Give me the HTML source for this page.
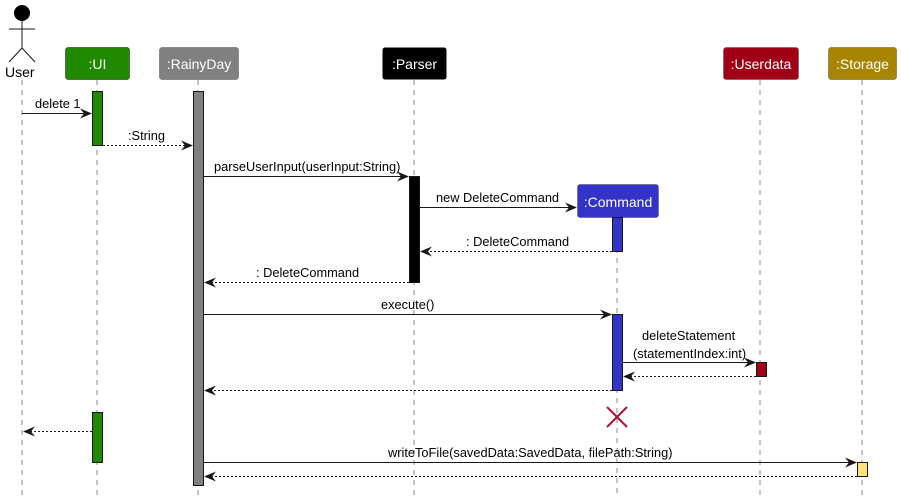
<!DOCTYPE html>
<html><head><meta charset="utf-8"><style>
html,body{margin:0;padding:0;background:#fff;width:901px;height:500px;overflow:hidden}
text{font-family:"Liberation Sans",sans-serif;font-size:12.8px;fill:#000}
.ll{stroke:#888;stroke-width:1;stroke-dasharray:5,5}
.m{stroke:#181818;stroke-width:1}
.d{stroke:#181818;stroke-width:1;stroke-dasharray:2,2}
.ah{fill:#181818}
.hd{fill:#fff;font-size:14px;text-anchor:middle}
</style></head><body>
<svg width="901" height="500" xmlns="http://www.w3.org/2000/svg">
<line class="ll" x1="22" y1="80" x2="22" y2="496"/>
<line class="ll" x1="97" y1="80" x2="97" y2="496"/>
<line class="ll" x1="198" y1="80" x2="198" y2="496"/>
<line class="ll" x1="414" y1="80" x2="414" y2="496"/>
<line class="ll" x1="617" y1="218" x2="617" y2="496"/>
<line class="ll" x1="760" y1="80" x2="760" y2="496"/>
<line class="ll" x1="862" y1="80" x2="862" y2="496"/>
<circle cx="22" cy="13" r="8" fill="#000"/>
<line x1="22" y1="21" x2="22" y2="48" stroke="#181818"/>
<line x1="9" y1="29" x2="35" y2="29" stroke="#181818"/>
<line x1="22" y1="48" x2="9" y2="62" stroke="#181818"/>
<line x1="22" y1="48" x2="35" y2="62" stroke="#181818"/>
<text x="5" y="77" style="font-size:14px">User</text>
<rect x="65.5" y="47.5" width="64" height="32" rx="2.5" fill="#1f8a00" stroke="#181818" stroke-width="0.5"/>
<text class="hd" x="97.5" y="69">:UI</text>
<rect x="159.5" y="47.5" width="79" height="32" rx="2.5" fill="#808080" stroke="#555" stroke-width="0.5"/>
<text class="hd" x="199" y="69">:RainyDay</text>
<rect x="382.5" y="47.5" width="64" height="32" rx="2.5" fill="#000"/>
<text class="hd" x="414.5" y="69">:Parser</text>
<rect x="723.5" y="47.5" width="75" height="32" rx="2.5" fill="#a00015" stroke="#555" stroke-width="0.5"/>
<text class="hd" x="761" y="69">:Userdata</text>
<rect x="828.5" y="47.5" width="68" height="32" rx="2.5" fill="#a88500" stroke="#555" stroke-width="0.5"/>
<text class="hd" x="862.5" y="69">:Storage</text>
<rect x="577.5" y="184.5" width="81" height="33" rx="2.5" fill="#3333c8" stroke="#555" stroke-width="0.5"/>
<text class="hd" x="618" y="207">:Command</text>
<rect x="92.5" y="91.5" width="10" height="54" fill="#1f8a00" stroke="#181818"/>
<rect x="92.5" y="412.5" width="10" height="50" fill="#1f8a00" stroke="#181818"/>
<rect x="193.5" y="91.5" width="10" height="394" fill="#808080" stroke="#181818"/>
<rect x="409.5" y="176.5" width="10" height="106" fill="#000" stroke="#181818"/>
<rect x="612.5" y="217.5" width="10" height="34" fill="#3333c8" stroke="#181818"/>
<rect x="612.5" y="314.5" width="10" height="76" fill="#3333c8" stroke="#181818"/>
<rect x="756.5" y="362.5" width="10" height="14" fill="#a00015" stroke="#181818"/>
<rect x="857.5" y="462.5" width="10" height="14" fill="#ffe27a" stroke="#181818"/>

<line class="m" x1="22" y1="113.5" x2="91" y2="113.5"/>
<polygon class="ah" points="92,113.5 80,108.5 84,113.5 80,118.5"/>
<text x="35" y="108">delete 1</text>

<line class="d" x1="103" y1="145.5" x2="192" y2="145.5"/>
<polygon class="ah" points="193,145.5 181,140.5 185,145.5 181,150.5"/>
<text x="128" y="140">:String</text>

<line class="m" x1="204" y1="176.5" x2="408" y2="176.5"/>
<polygon class="ah" points="409,176.5 397,171.5 401,176.5 397,181.5"/>
<text x="214" y="171">parseUserInput(userInput:String)</text>

<line class="m" x1="420" y1="207.5" x2="576" y2="207.5"/>
<polygon class="ah" points="577,207.5 565,202.5 569,207.5 565,212.5"/>
<text x="436" y="202">new DeleteCommand</text>

<line class="d" x1="612" y1="251.5" x2="421" y2="251.5"/>
<polygon class="ah" points="420,251.5 432,246.5 428,251.5 432,256.5"/>
<text x="466" y="246">: DeleteCommand</text>

<line class="d" x1="409" y1="282.5" x2="205" y2="282.5"/>
<polygon class="ah" points="204,282.5 216,277.5 212,282.5 216,287.5"/>
<text x="256" y="277">: DeleteCommand</text>

<line class="m" x1="204" y1="314.5" x2="611" y2="314.5"/>
<polygon class="ah" points="612,314.5 600,309.5 604,314.5 600,319.5"/>
<text x="381" y="309">execute()</text>

<line class="m" x1="623" y1="362.5" x2="755" y2="362.5"/>
<polygon class="ah" points="756,362.5 744,357.5 748,362.5 744,367.5"/>
<text x="642" y="340">deleteStatement</text>
<text x="633" y="358">(statementIndex:int)</text>

<line class="d" x1="756" y1="376.5" x2="624" y2="376.5"/>
<polygon class="ah" points="623,376.5 635,371.5 631,376.5 635,381.5"/>

<line class="d" x1="612" y1="390.5" x2="205" y2="390.5"/>
<polygon class="ah" points="204,390.5 216,385.5 212,390.5 216,395.5"/>

<line x1="607" y1="407" x2="627" y2="427" stroke="#b0103e" stroke-width="2"/>
<line x1="627" y1="407" x2="607" y2="427" stroke="#b0103e" stroke-width="2"/>

<line class="d" x1="92" y1="431.5" x2="24" y2="431.5"/>
<polygon class="ah" points="23,431.5 35,426.5 31,431.5 35,436.5"/>

<line class="m" x1="204" y1="462.5" x2="856" y2="462.5"/>
<polygon class="ah" points="857,462.5 845,457.5 849,462.5 845,467.5"/>
<text x="388" y="457">writeToFile(savedData:SavedData, filePath:String)</text>

<line class="d" x1="857" y1="476.5" x2="205" y2="476.5"/>
<polygon class="ah" points="204,476.5 216,471.5 212,476.5 216,481.5"/>
</svg>
</body></html>
